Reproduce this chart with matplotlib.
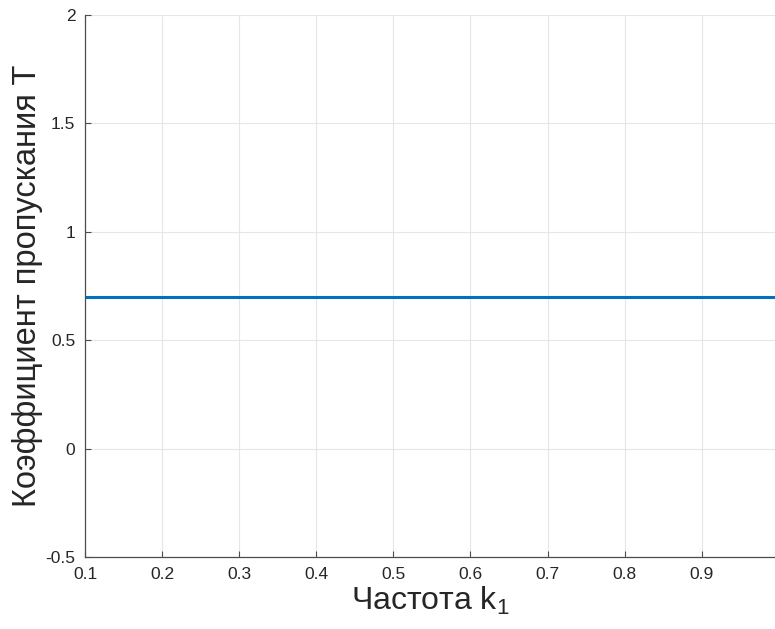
import numpy as np
import matplotlib.pyplot as plt

plt.rcParams['font.family'] = ['Liberation Sans', 'DejaVu Sans']
plt.rcParams['mathtext.fontset'] = 'custom'
plt.rcParams['mathtext.rm'] = 'Liberation Sans'
plt.rcParams['mathtext.it'] = 'Liberation Sans'

# transmission coefficient vs frequency
k1 = [0.1, 0.995]
T = [0.7, 0.7]
xticks = [0.1, 0.2, 0.3, 0.4, 0.5, 0.6, 0.7, 0.8, 0.9]
yticks = [-0.5, 0, 0.5, 1, 1.5, 2]

fig = plt.figure(figsize=(7.75, 6.29), dpi=100)
ax = fig.add_axes([0.1097, 0.1145, 0.8903, 0.8617])

ax.plot(k1, T, color='#0072BD', linewidth=2.2)

ax.set_xlim(0.1, 0.995)
ax.set_ylim(-0.5, 2)
ax.set_xticks(xticks)
ax.set_xticklabels([f'{v:g}' for v in xticks])
ax.set_yticks(yticks)
ax.set_yticklabels([f'{v:g}' for v in yticks])

ax.grid(True, color='#e6e6e6', linewidth=0.8)
ax.set_axisbelow(True)
for side in ('top', 'right'):
    ax.spines[side].set_visible(False)
for side in ('left', 'bottom'):
    ax.spines[side].set_color('#4d4d4d')
    ax.spines[side].set_linewidth(0.9)
ax.tick_params(direction='in', length=4, width=0.8, colors='#4d4d4d',
               labelcolor='#262626', labelsize=12.5)
ax.tick_params(axis='x', pad=7)
ax.tick_params(axis='y', pad=7)

ax.set_xlabel('Частота k$_1$', fontsize=23, color='#262626', labelpad=2)
ax.set_ylabel('Коэффициент пропускания T', fontsize=23.5, color='#262626', labelpad=2)

plt.savefig('out.png', dpi=100)
plt.close()
